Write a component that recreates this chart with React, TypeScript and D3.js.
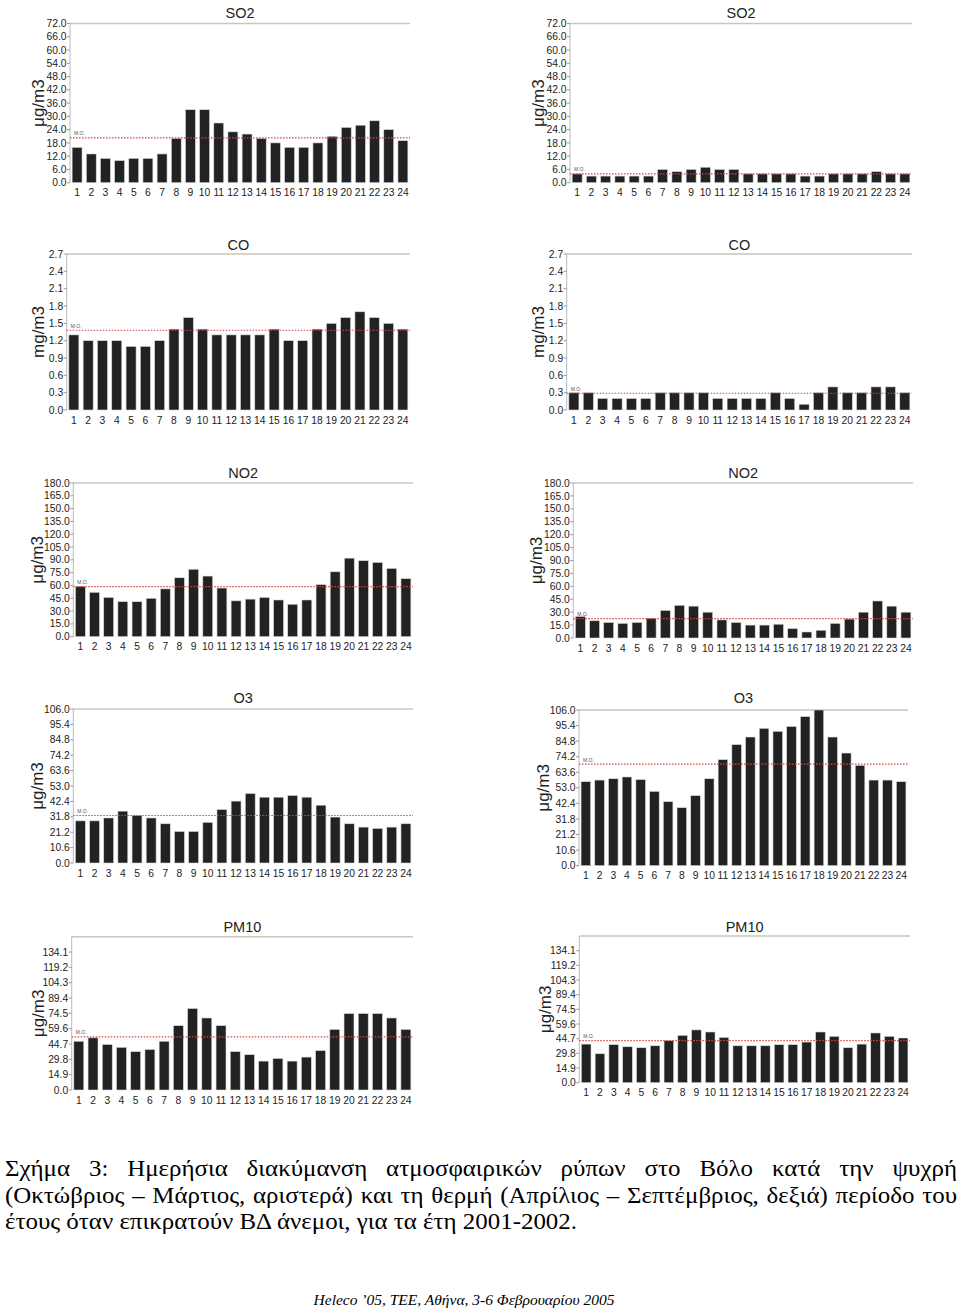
import React, { useEffect, useRef } from 'react';
import * as d3 from 'd3';

const hours = ['1','2','3','4','5','6','7','8','9','10','11','12','13','14','15','16','17','18','19','20','21','22','23','24'];

const so2Winter = [16,13,11,10,11,11,13,20,33,33,27,23,22,20,18,16,16,18,21,25,26,28,24,19];
const so2Summer = [4,3,3,3,3,3,6,5,6,7,6,6,4,4,4,4,3,3,4,4,4,5,4,4];
const coWinter = [1.3,1.2,1.2,1.2,1.1,1.1,1.2,1.4,1.6,1.4,1.3,1.3,1.3,1.3,1.4,1.2,1.2,1.4,1.5,1.6,1.7,1.6,1.5,1.4];
const coSummer = [0.3,0.3,0.2,0.2,0.2,0.2,0.3,0.3,0.3,0.3,0.2,0.2,0.2,0.2,0.3,0.2,0.1,0.3,0.4,0.3,0.3,0.4,0.4,0.3];
const no2Winter = [59,52,46,41,41,45,56,69,79,71,57,42,44,46,43,38,43,61,76,92,89,87,80,68];
const no2Summer = [25,20,18,17,18,23,32,38,37,30,21,18,15,15,16,11,7,9,17,22,30,43,37,30];
const o3Winter = [29,29,31,35.7,32.7,31,27,21.7,21.7,28,36.8,42.6,47.8,45.3,45.3,46.5,45.3,39.8,31.6,27,24.7,23.8,24.7,27];
const o3Summer = [57.2,58.3,59.2,60.4,58.6,50.6,43.6,39.5,47.7,59.2,72.2,82.4,87.6,93.5,91.5,94.8,101.5,106,87.6,76.7,68.3,58.3,58.3,57.2];
const pm10Winter = [47.4,50.7,44.2,41.5,37.3,39.3,47.4,62.5,79.2,70,62.5,37.3,34.3,28.1,30.7,28.1,32,38.3,58.9,74.3,74.3,74.3,70,58.9];
const pm10Summer = [39.2,29.4,38.6,36.5,35.5,37.5,42.7,48.1,53.6,51.5,46,37.5,37.5,37.5,38.6,38.6,41.3,51.5,47.1,35.5,39.2,50.5,47.1,45.4];

// M.O. (mean) values: [winter, summer]
const so2Mean = [20.3, 4];
const coMean = [1.38, 0.29];
const no2Mean = [58.7, 22.4];
const o3Mean = [32.7, 69.2];
const pm10Mean = [51.7, 42.7];

const so2Ticks = [0,6,12,18,24,30,36,42,48,54,60,66,72];
const coTicks = [0,0.3,0.6,0.9,1.2,1.5,1.8,2.1,2.4,2.7];
const no2Ticks = [0,15,30,45,60,75,90,105,120,135,150,165,180];
const o3Ticks = [0,10.6,21.2,31.8,42.4,53,63.6,74.2,84.8,95.4,106];
const pm10Ticks = [0,14.9,29.8,44.7,59.6,74.5,89.4,104.3,119.2,134.1];

const so2Max = 72;
const coMax = 2.7;
const no2Max = 180;
const o3Max = 106;
const pm10Max = 149;

const titles = ['SO2','CO','NO2','O3','PM10'];
const units = ['μg/m3','mg/m3','μg/m3','μg/m3','μg/m3'];
const moLabel = 'M.O.';

const captionLines = [
  'Σχήμα 3: Ημερήσια διακύμανση ατμοσφαιρικών ρύπων στο Βόλο κατά την ψυχρή',
  '(Οκτώβριος – Μάρτιος, αριστερά) και τη θερμή (Απρίλιος – Σεπτέμβριος, δεξιά) περίοδο του',
  'έτους όταν επικρατούν ΒΔ άνεμοι, για τα έτη 2001-2002.',
];
const footer = 'Heleco ’05, ΤΕΕ, Αθήνα, 3-6 Φεβρουαρίου 2005';

// layout
type Geo = { x0: number; x1: number; yt: number; yb: number; ty: number; lx: number };
const leftGeo: Geo[] = [
  { x0: 70, x1: 410, yt: 23.5, yb: 182.7, ty: 18, lx: 38 },
  { x0: 66.7, x1: 410, yt: 254, yb: 410, ty: 250, lx: 38 },
  { x0: 73.3, x1: 413, yt: 483, yb: 636.7, ty: 478, lx: 37 },
  { x0: 73.3, x1: 413, yt: 709, yb: 863, ty: 703, lx: 37 },
  { x0: 71.7, x1: 413, yt: 936.7, yb: 1090, ty: 932, lx: 38 },
];
const rightGeo: Geo[] = [
  { x0: 570, x1: 912, yt: 23.5, yb: 182.7, ty: 18, lx: 538 },
  { x0: 566.7, x1: 912, yt: 254, yb: 410, ty: 250, lx: 538 },
  { x0: 573.3, x1: 913, yt: 483, yb: 638, ty: 478, lx: 536 },
  { x0: 579, x1: 908, yt: 710, yb: 865.7, ty: 703, lx: 543 },
  { x0: 579.3, x1: 910, yt: 936, yb: 1082.7, ty: 932, lx: 545 },
];

const SANS = 'Liberation Sans, Arial, sans-serif';
const SERIF = 'Liberation Serif, Times New Roman, serif';

function Panel({ g, values, mean, ticks, max, title, unit }: any) {
  const x = d3.scaleBand<string>().domain(hours).range([g.x0, g.x1]).paddingInner(0.3).paddingOuter(0.15);
  const y = d3.scaleLinear().domain([0, max]).range([g.yb, g.yt]);
  const fmt = d3.format('.1f');
  const my = y(mean);
  return (
    <g>
      <text x={(g.x0 + g.x1) / 2} y={g.ty} textAnchor="middle" fontFamily={SANS} fontSize={14.5} fill="#222">{title}</text>
      <line x1={g.x0} x2={g.x1} y1={g.yt} y2={g.yt} stroke="#c9c7b8" strokeWidth={1.5} />
      <line x1={g.x0} x2={g.x0} y1={g.yt} y2={g.yb} stroke="#bbbbbb" strokeWidth={1} />
      {ticks.map((t: number) => (
        <g key={t}>
          <line x1={g.x0 - 3} x2={g.x0} y1={y(t)} y2={y(t)} stroke="#999" strokeWidth={1} />
          <text x={g.x0 - 3.5} y={y(t)} dy="0.35em" textAnchor="end" fontFamily={SANS} fontSize={10.3} fill="#222">{fmt(t)}</text>
        </g>
      ))}
      {values.map((v: number, i: number) => (
        <rect key={i} x={x(hours[i])} y={y(v)} width={x.bandwidth()} height={g.yb - y(v)} fill="#222" stroke="#d8d8d8" strokeWidth={0.6} />
      ))}
      {hours.map((h) => (
        <text key={h} x={(x(h) as number) + x.bandwidth() / 2} y={g.yb + 13.5} textAnchor="middle" fontFamily={SANS} fontSize={10.3} fill="#222">{h}</text>
      ))}
      <line x1={g.x0} x2={g.x1} y1={my} y2={my} stroke="#d04848" strokeWidth={1.2} strokeDasharray="1.5,1.5" />
      <text x={g.x0 + 4} y={my - 2.5} fontFamily={SANS} fontSize={5} fill="#555">{moLabel}</text>
      <text transform={`translate(${g.lx},${(g.yt + g.yb) / 2}) rotate(-90)`} textAnchor="middle" dy="0.35em" fontFamily={SANS} fontSize={17} fill="#222">{unit}</text>
    </g>
  );
}

export default function App() {
  const capRef = useRef<SVGGElement>(null);
  const capLeft = 5;
  const capRight = 957;
  const lastLineWidth = 572;
  const capY = [1176, 1202.5, 1229];
  const capSize = 24;

  useEffect(() => {
    const g = d3.select(capRef.current);
    g.selectAll('*').remove();
    const mk = (txt: string, y: number) =>
      g.append('text').attr('y', y).attr('font-family', SERIF).attr('font-size', capSize).attr('fill', '#000').text(txt);
    // last line, left aligned; its measured width sets the horizontal stretch
    const last = mk(captionLines[2], capY[2]).attr('x', capLeft);
    const lastLen = (last.node() as SVGTextElement).getComputedTextLength();
    const sx = lastLineWidth / lastLen;
    last.attr('textLength', lastLineWidth).attr('lengthAdjust', 'spacingAndGlyphs');
    [0, 1].forEach((i) => {
      const words = captionLines[i].split(' ').filter(Boolean);
      const texts = words.map((w) => mk(w, capY[i]));
      const widths = texts.map((t) => (t.node() as SVGTextElement).getComputedTextLength() * sx);
      const gap = (capRight - capLeft - d3.sum(widths)) / (words.length - 1);
      let cx = capLeft;
      texts.forEach((t, j) => {
        t.attr('x', cx).attr('textLength', widths[j]).attr('lengthAdjust', 'spacingAndGlyphs');
        cx += widths[j] + gap;
      });
    });
  }, []);

  const winter = [so2Winter, coWinter, no2Winter, o3Winter, pm10Winter];
  const summer = [so2Summer, coSummer, no2Summer, o3Summer, pm10Summer];
  const means = [so2Mean, coMean, no2Mean, o3Mean, pm10Mean];
  const ticks = [so2Ticks, coTicks, no2Ticks, o3Ticks, pm10Ticks];
  const maxes = [so2Max, coMax, no2Max, o3Max, pm10Max];

  return (
    <svg width={960} height={1310} style={{ position: 'absolute', left: 0, top: 0, background: '#fff' }}>
      <rect x={0} y={0} width={960} height={1310} fill="#fff" />
      {titles.map((t, i) => (
        <g key={t}>
          <Panel g={leftGeo[i]} values={winter[i]} mean={means[i][0]} ticks={ticks[i]} max={maxes[i]} title={t} unit={units[i]} />
          <Panel g={rightGeo[i]} values={summer[i]} mean={means[i][1]} ticks={ticks[i]} max={maxes[i]} title={t} unit={units[i]} />
        </g>
      ))}
      <g ref={capRef} />
      <text x={464} y={1305} textAnchor="middle" fontFamily={SERIF} fontStyle="italic" fontSize={15.5} fill="#000">{footer}</text>
    </svg>
  );
}
